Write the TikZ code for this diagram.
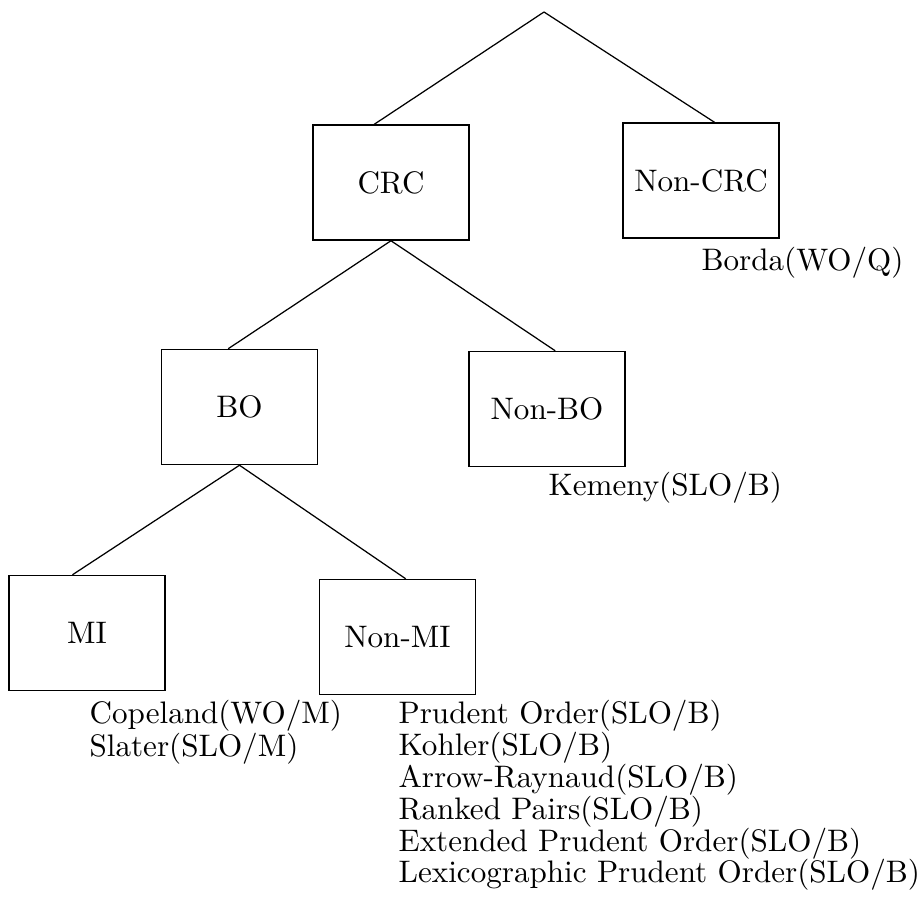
\documentclass[tikz,border=0pt]{standalone}
\begin{document}
\begin{tikzpicture}[x=0.3215pt,y=-0.3215pt,
  every node/.style={font=\fontsize{10}{12}\selectfont,inner sep=0pt},
  classbox/.style={draw,line width=0.45pt,minimum width=50.15pt,minimum height=37pt},
  treeedge/.style={line width=0.4pt}]
\useasboundingbox (0,0) rectangle (923,921);
\coordinate (root) at (544,12);
\node[classbox] (crc) at (391,182.5) {CRC};
\node[classbox] (noncrc) at (701,180.5) {Non-CRC};
\node[classbox] (bo) at (239.5,407) {BO};
\node[classbox] (nonbo) at (547,409) {Non-BO};
\node[classbox] (mi) at (87,633) {MI};
\node[classbox] (nonmi) at (397.5,637) {Non-MI};
\draw[treeedge] (root) -- (crc.106);
\draw[treeedge] (root) -- (noncrc.77);
\draw[treeedge] (bo.101) -- (crc.south) -- (nonbo.82);
\draw[treeedge] (mi.104) -- (bo.south) -- (nonmi.82);
\node[anchor=west] (borda) at (701,263) {Borda(WO/Q)};
\node[anchor=west] (kemeny) at (548,488) {Kemeny(SLO/B)};
\node[anchor=west] (copeland) at (89,716) {Copeland(WO/M)};
\node[anchor=west] (slater) at (89,749) {Slater(SLO/M)};
\node[anchor=west] (prudent) at (398,716) {Prudent Order(SLO/B)};
\node[anchor=west] (kohler) at (398,748) {Kohler(SLO/B)};
\node[anchor=west] (arrow) at (398,780) {Arrow-Raynaud(SLO/B)};
\node[anchor=west] (ranked) at (398,812) {Ranked Pairs(SLO/B)};
\node[anchor=west] (extprudent) at (398,844) {Extended Prudent Order(SLO/B)};
\node[anchor=west] (lexprudent) at (398,875) {Lexicographic Prudent Order(SLO/B)};
\end{tikzpicture}
\end{document}
